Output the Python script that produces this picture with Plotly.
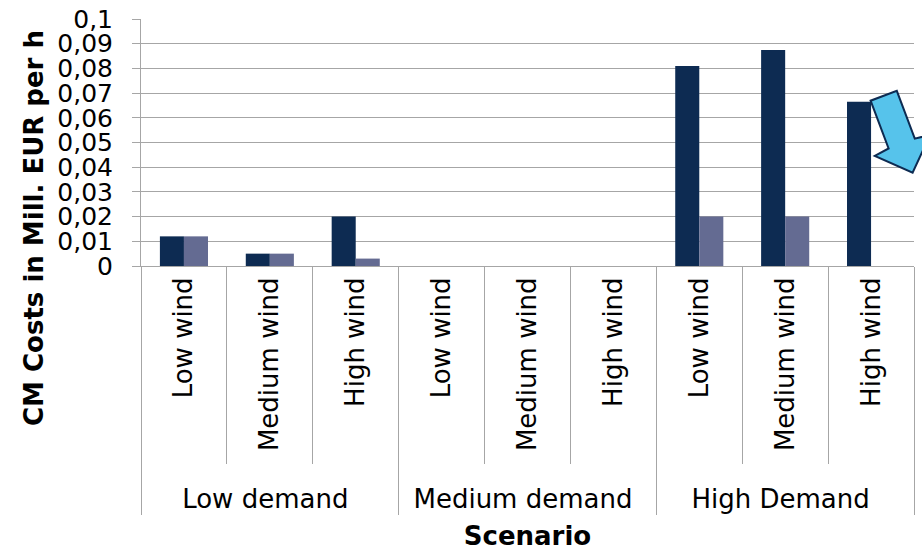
import plotly.graph_objects as go

# ---- data ----
demand = ["Low demand"] * 3 + ["Medium demand"] * 3 + ["High Demand"] * 3
wind = ["Low wind", "Medium wind", "High wind"] * 3
series_a = [0.012, 0.005, 0.020, 0, 0, 0, 0.081, 0.0875, 0.0665]
series_b = [0.012, 0.005, 0.003, 0, 0, 0, 0.020, 0.020, 0]
y_ticks = [0, 0.01, 0.02, 0.03, 0.04, 0.05, 0.06, 0.07, 0.08, 0.09, 0.1]

# ---- layout constants (pixels) ----
W, H = 922, 551
ML, MR, MT, MB = 141, 8, 19, 285
PW = W - ML - MR
PH = H - MT - MB

DARK = "#0D2B52"
LIGHT = "#646B92"
GRID = "#A6A6A6"
FONT = "DejaVu Sans"

# non-breaking padding below the rotated inner labels so the outer row sits lower
PAD = "\u00a0"
wind_labels = [PAD + w for w in wind]


def px2paper(px, py):
    return (px - ML) / PW, (H - MB - py) / PH


fig = go.Figure()
fig.add_bar(x=[demand, wind_labels], y=series_a, marker=dict(color=DARK, line=dict(width=0)), showlegend=False)
fig.add_bar(x=[demand, wind_labels], y=series_b, marker=dict(color=LIGHT, line=dict(width=0)), showlegend=False)

fig.update_layout(
    width=W, height=H,
    margin=dict(l=ML, r=MR, t=MT, b=MB, pad=0, autoexpand=False),
    paper_bgcolor="white", plot_bgcolor="white",
    barmode="group", bargap=0.44, bargroupgap=0,
    separators=",.",
    font=dict(family=FONT, size=25, color="black"),
)

fig.update_yaxes(
    range=[0, 0.1], tickvals=y_ticks, tickformat="~g",
    showgrid=True, gridcolor=GRID, gridwidth=1,
    showline=True, linecolor=GRID, linewidth=1,
    ticks="outside", ticklen=8, tickcolor=GRID,
    ticklabelstandoff=14,
    zeroline=False, automargin=False,
    tickfont=dict(family=FONT, size=25, color="black"),
)

fig.update_xaxes(
    type="multicategory",
    tickangle=-90,
    showdividers=True, dividercolor=GRID, dividerwidth=1,
    ticks="outside", tickson="boundaries", ticklen=197, tickcolor=GRID,
    showline=True, linecolor=GRID, linewidth=1,
    automargin=False,
    tickfont=dict(family=FONT, size=26, color="black"),
    title=dict(text="<b>Scenario</b>", font=dict(family=FONT, size=26, color="black"), standoff=13),
)

# y-axis title as annotation (offset like the original)
tx, ty = px2paper(34, 228)
fig.add_annotation(
    x=tx, y=ty, xref="paper", yref="paper",
    text="<b>CM Costs in Mill. EUR per h</b>", textangle=-90,
    showarrow=False, xanchor="center", yanchor="middle",
    font=dict(family=FONT, size=26, color="black"),
)

# decorative arrow (block arrow pointing down-right)
arrow_px = [(870.6, 100.7), (888.6, 148.5), (874.8, 155.8), (912.6, 172.6),
            (930.0, 135.0), (914.8, 138.6), (896.8, 90.9)]
pts = [px2paper(x, y) for x, y in arrow_px]
path = "M " + " L ".join(f"{x:.5f},{y:.5f}" for x, y in pts) + " Z"
fig.add_shape(type="path", path=path, xref="paper", yref="paper",
              fillcolor="#56C3EB", line=dict(color=DARK, width=2), layer="above")

fig.write_html("out.html")
